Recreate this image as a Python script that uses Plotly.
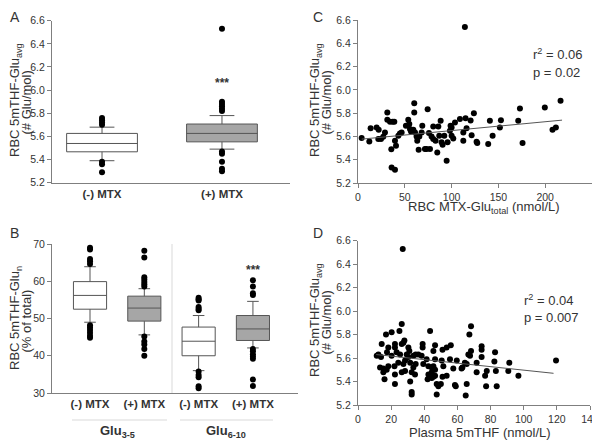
import plotly.graph_objects as go

# ---- panel A: RBC 5mTHF-Glu avg by MTX ----
a_labels = ["(-) MTX", "(+) MTX"]
a_q1 = [5.467, 5.553]
a_med = [5.539, 5.626]
a_q3 = [5.626, 5.707]
a_lo = [5.39, 5.49]
a_hi = [5.68, 5.78]
a_out = [
    [5.76, 5.74, 5.72, 5.70, 5.38, 5.36, 5.29],
    [6.53, 5.90, 5.88, 5.86, 5.84, 5.82, 5.47, 5.45, 5.38, 5.32, 5.30],
]

# ---- panel B: % of total, Glu3-5 and Glu6-10 ----
b_labels = ["(-) MTX", "(+) MTX", "(-) MTX", "(+) MTX"]
b_groups = ["Glu<sub>3-5</sub>", "Glu<sub>6-10</sub>"]
b_q1 = [52.5, 49.3, 40.0, 44.1]
b_med = [56.2, 52.8, 43.9, 47.2]
b_q3 = [59.9, 56.0, 47.7, 50.8]
b_lo = [49.0, 45.6, 36.0, 42.1]
b_hi = [63.9, 58.0, 50.8, 54.6]
b_out = [
    [69.0, 68.5, 66.0, 65.4, 64.6, 48.2, 47.6, 46.9, 46.2, 45.4, 44.8],
    [68.2, 66.4, 61.1, 60.5, 59.8, 59.2, 58.6, 45.2, 43.8, 43.0, 41.8, 40.0],
    [55.6, 55.2, 54.8, 53.1, 52.6, 52.2, 35.8, 34.8, 34.2, 31.8, 31.3],
    [60.3, 58.6, 56.8, 56.3, 41.8, 41.2, 40.4, 39.8, 39.2, 33.6, 31.9],
]

# ---- panel C: vs RBC MTX-Glu total ----
c_x = [3.9, 12.1, 13.5, 19.9, 22.1, 21.7, 24.6, 27.0, 28.8, 31.3, 31.3, 34.2, 37.0, 38.8,
       35.6, 39.5, 40.6, 35.9, 39.5, 43.1, 44.8, 46.6, 51.2, 53.7, 54.8, 55.5, 56.6, 59.1,
       60.1, 60.1, 60.9, 62.6, 63.3, 64.8, 65.5, 68.0, 68.7, 71.5, 73.3, 74.4, 75.8, 76.9,
       78.6, 80.4, 80.4, 82.9, 84.7, 85.8, 86.8, 88.3, 89.3, 90.4, 92.2, 94.7, 95.7, 98.2,
       98.9, 100.0, 100.0, 101.8, 103.6, 108.9, 112.5, 112.5, 114.2, 114.9, 116.0, 120.3,
       121.4, 123.8, 126.7, 127.4, 139.1, 140.9, 143.8, 151.6, 152.7, 171.2, 173.0, 175.8,
       199.6, 207.8, 211.4, 216.4]
c_y = [5.586, 5.557, 5.671, 5.677, 5.657, 5.577, 5.577, 5.597, 5.634, 5.806, 5.743, 5.726,
       5.726, 5.726, 5.49, 5.563, 5.52, 5.334, 5.314, 5.606, 5.626, 5.634, 5.691, 5.743,
       5.706, 5.663, 5.643, 5.657, 5.806, 5.886, 5.634, 5.6, 5.563, 5.486, 5.6, 5.634,
       5.691, 5.491, 5.491, 5.834, 5.629, 5.491, 5.6, 5.577, 5.686, 5.563, 5.463, 5.686,
       5.606, 5.734, 5.549, 5.529, 5.606, 5.391, 5.549, 5.649, 5.691, 5.677, 5.606, 5.583,
       5.72, 5.749, 5.634, 5.563, 6.54, 5.757, 5.671, 5.737, 5.611, 5.8, 5.554, 5.543,
       5.534, 5.734, 5.606, 5.677, 5.74, 5.734, 5.84, 5.543, 5.849, 5.657, 5.677, 5.906]
c_fit_x = [4, 218]
c_fit_y = [5.577, 5.74]

# ---- panel D: vs plasma 5mTHF ----
d_x = [26.4, 16.9, 20.3, 25.0, 43.5, 14.3, 18.3, 22.3, 22.3, 26.4, 27.4, 28.0, 30.4, 31.0,
       34.8, 39.0, 39.0, 46.5, 51.0, 56.0, 53.5, 12.3, 11.3, 13.9, 17.5, 20.3, 23.3, 25.4,
       29.4, 30.4, 33.4, 36.4, 38.4, 41.4, 45.5, 46.5, 50.5, 55.5, 59.6, 13.3, 15.3, 17.3,
       18.3, 22.0, 24.3, 27.4, 28.4, 31.5, 33.4, 34.8, 39.4, 42.5, 44.5, 45.5, 46.5, 51.5,
       57.5, 62.5, 15.3, 22.3, 26.4, 28.4, 32.4, 34.4, 42.5, 46.5, 16.0, 22.3, 31.5, 42.0,
       44.5, 48.5, 50.0, 58.5, 27.0, 32.4, 32.4, 47.5, 65.0, 68.2, 67.2, 68.2, 66.6, 67.6,
       74.6, 74.6, 82.7, 71.6, 82.3, 91.3, 119.5, 65.6, 63.0, 64.5, 65.6, 71.6, 74.6, 76.7,
       77.3, 77.7, 83.2, 83.7, 90.7, 96.8, 59.0, 53.5, 51.0, 47.5, 45.5, 44.5]
d_y = [5.89, 5.80, 5.82, 5.83, 5.83, 5.72, 5.69, 5.72, 5.69, 5.72, 5.73, 5.75, 5.69, 5.66,
       5.63, 5.72, 5.69, 5.71, 5.67, 5.71, 5.69, 5.63, 5.62, 5.61, 5.65, 5.62, 5.65, 5.63,
       5.63, 5.61, 5.62, 5.63, 5.62, 5.59, 5.66, 5.59, 5.58, 5.59, 5.58, 5.52, 5.51, 5.50,
       5.53, 5.53, 5.56, 5.55, 5.58, 5.56, 5.52, 5.55, 5.55, 5.53, 5.52, 5.53, 5.50, 5.53,
       5.51, 5.51, 5.48, 5.46, 5.48, 5.49, 5.48, 5.46, 5.46, 5.45, 5.42, 5.38, 5.40, 5.42,
       5.43, 5.36, 5.38, 5.37, 6.53, 5.29, 5.31, 5.29, 5.28, 5.87, 5.80, 5.66, 5.63, 5.62,
       5.70, 5.67, 5.65, 5.56, 5.57, 5.56, 5.58, 5.55, 5.52, 5.56, 5.38, 5.48, 5.61, 5.45,
       5.36, 5.49, 5.49, 5.36, 5.49, 5.45, 5.36, 5.45, 5.44, 5.38, 5.44, 5.48]
d_fit_x = [11, 118]
d_fit_y = [5.63, 5.47]

FONT = "Liberation Sans, Arial, sans-serif"
TXT = "#333333"
AX = "#7f7f7f"
# page body has an 8px margin, so the figure is drawn from (8, 8)
OFF = 8
W, H = 600 - OFF, 441 - OFF

def px(x):
    return (x - OFF) / W

def py(y):
    return 1 - (y - OFF) / H

def dom_x(a, b):
    return [px(a), px(b)]

def dom_y(top, bottom):
    return [py(bottom), py(top)]

fig = go.Figure()

def add_boxes(xref, yref, pos, q1, med, q3, lo, hi, outs, width):
    for i in range(len(pos)):
        fill = "white" if i % 2 == 0 else "#a6a6a6"
        fig.add_trace(go.Box(x=[pos[i]], q1=[q1[i]], median=[med[i]], q3=[q3[i]],
                             lowerfence=[lo[i]], upperfence=[hi[i]], width=width,
                             whiskerwidth=0.35, fillcolor=fill,
                             line=dict(color="#555555", width=1),
                             xaxis=xref, yaxis=yref, showlegend=False, hoverinfo="skip"))
        fig.add_trace(go.Scatter(x=[pos[i]] * len(outs[i]), y=outs[i], mode="markers",
                                 marker=dict(color="black", size=6),
                                 xaxis=xref, yaxis=yref, showlegend=False))

a_pos = list(range(len(a_labels)))
b_pos = list(range(len(b_labels)))
add_boxes("x", "y", a_pos, a_q1, a_med, a_q3, a_lo, a_hi, a_out, 0.59)
add_boxes("x2", "y2", b_pos, b_q1, b_med, b_q3, b_lo, b_hi, b_out, 0.61)

# separator in B
fig.add_trace(go.Scatter(x=[1.51, 1.51], y=[30, 70], mode="lines",
                         line=dict(color="#d9d9d9", width=1),
                         xaxis="x2", yaxis="y2", showlegend=False))

# scatters
fig.add_trace(go.Scatter(x=c_x, y=c_y, mode="markers", marker=dict(color="black", size=6),
                         xaxis="x3", yaxis="y3", showlegend=False))
fig.add_trace(go.Scatter(x=c_fit_x, y=c_fit_y, mode="lines", line=dict(color="#555555", width=1),
                         xaxis="x3", yaxis="y3", showlegend=False))
fig.add_trace(go.Scatter(x=d_x, y=d_y, mode="markers", marker=dict(color="black", size=6),
                         xaxis="x4", yaxis="y4", showlegend=False))
fig.add_trace(go.Scatter(x=d_fit_x, y=d_fit_y, mode="lines", line=dict(color="#555555", width=1),
                         xaxis="x4", yaxis="y4", showlegend=False))

tickf = dict(family=FONT, size=10.5, color=TXT)
boldf = dict(family=FONT, size=11.5, color=TXT)

def yaxis(dom, rng, dtick, anchor):
    return dict(domain=dom, range=rng, dtick=dtick, showline=True, linecolor=AX, linewidth=1,
                ticks="outside", ticklen=4, tickcolor=AX, showgrid=False, zeroline=False,
                tickfont=tickf, tickformat=".1f" if dtick < 1 else "d", anchor=anchor,
                automargin=False)

def xaxis_num(dom, rng, dtick, anchor):
    return dict(domain=dom, range=rng, dtick=dtick, showline=True, linecolor=AX, linewidth=1,
                ticks="outside", ticklen=4, tickcolor=AX, showgrid=False, zeroline=False,
                tickfont=tickf, anchor=anchor, automargin=False)

def xaxis_cat(dom, rng, pos, labels, anchor):
    return dict(domain=dom, range=rng, tickvals=pos,
                ticktext=["<b>%s</b>" % t for t in labels], showline=True, linecolor=AX,
                linewidth=1, ticks="", showgrid=False, zeroline=False, tickfont=boldf,
                anchor=anchor, automargin=False)

fig.update_layout(
    width=W, height=H, margin=dict(l=0, r=0, t=0, b=0),
    paper_bgcolor="white", plot_bgcolor="white",
    font=dict(family=FONT, color=TXT),
    xaxis=xaxis_cat(dom_x(52, 290), [-0.417, 1.567], a_pos, a_labels, "y"),
    yaxis=yaxis(dom_y(20.7, 182.7), [5.2, 6.6], 0.2, "x"),
    xaxis2=xaxis_cat(dom_x(52, 298), [-0.7, 3.83], b_pos, b_labels, "y2"),
    yaxis2=yaxis(dom_y(244, 393), [30, 70], 10, "x2"),
    xaxis3=xaxis_num(dom_x(358, 592), [0, 250], 50, "y3"),
    yaxis3=yaxis(dom_y(20, 183), [5.2, 6.6], 0.2, "x3"),
    xaxis4=xaxis_num(dom_x(358, 590), [0, 140], 20, "y4"),
    yaxis4=yaxis(dom_y(240.7, 405), [5.2, 6.6], 0.2, "x4"),
)

ann = []
titlef = dict(family=FONT, size=13, color=TXT)

def note(text, x, y, font, xref="paper", yref="paper", xanchor="center", angle=0):
    ann.append(dict(text=text, x=x, y=y, xref=xref, yref=yref, xanchor=xanchor,
                    yanchor="middle", textangle=angle, showarrow=False, font=font))

for letter, x, y in [("A", 8, 17), ("B", 8, 233), ("C", 311, 17), ("D", 311, 233)]:
    note(letter, px(x), py(y), dict(family=FONT, size=14, color=TXT), xanchor="left")
# y titles, one annotation per line to keep the lines close together
for l1, l2, x, y in [("RBC 5mTHF-Glu<sub>avg</sub>", "(# Glu/mol)", 15, 100),
                     ("RBC 5mTHF-Glu<sub>n</sub>", "(% of total)", 15, 318),
                     ("RBC 5mTHF-Glu<sub>avg</sub>", "(# Glu/mol)", 315, 100),
                     ("RBC 5mTHF-Glu<sub>avg</sub>", "(# Glu/mol)", 315, 320)]:
    note(l1, px(x), py(y), titlef, angle=-90)
    note(l2, px(x + 10.5), py(y + 3), titlef, angle=-90)
note("RBC MTX-Glu<sub>total</sub> (nmol/L)", px(484), py(208), titlef)
note("Plasma 5mTHF (nmol/L)", px(480), py(432), titlef)
# stats text
for txt, x, y in [("r<sup>2</sup> = 0.06", 531, 54), ("p = 0.02", 531, 72),
                  ("r<sup>2</sup> = 0.04", 522, 300), ("p = 0.007", 522, 317)]:
    note(txt, px(x), py(y), titlef, xanchor="left")
# significance stars
starf = dict(family=FONT, size=12, color=TXT)
note("<b>***</b>", 1, 6.06, starf, "x", "y")
note("<b>***</b>", 1, 70.3, starf, "x2", "y2")
note("<b>***</b>", 3, 63.0, starf, "x2", "y2")
# group labels in B
for i, g in enumerate(b_groups):
    note("<b>%s</b>" % g, 2 * i + 0.5, py(431), dict(family=FONT, size=13, color=TXT),
         "x2", "paper")
fig.update_layout(annotations=ann)

# thin lines above group labels
for x0, x1 in [(72, 167), (180, 273)]:
    fig.add_shape(type="line", x0=px(x0), x1=px(x1), y0=py(420), y1=py(420),
                  xref="paper", yref="paper", line=dict(color="#d9d9d9", width=1))

fig.write_html("out.html")
